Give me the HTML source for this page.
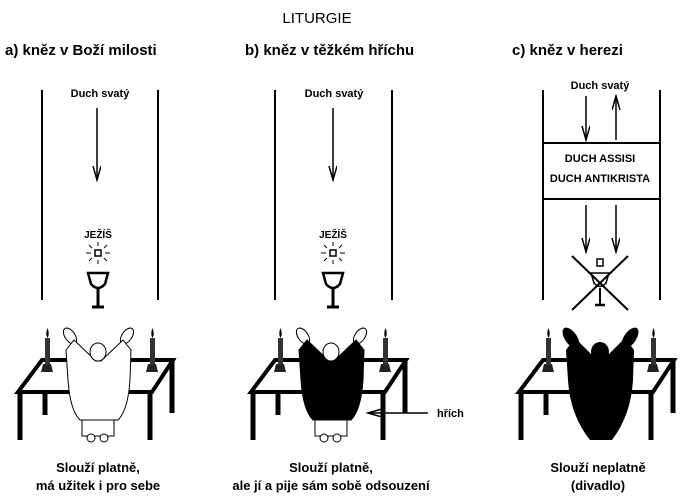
<!DOCTYPE html>
<html><head><meta charset="utf-8"><style>
html,body{margin:0;padding:0;background:#fff;}
svg{display:block;}
text{font-family:"Liberation Sans",sans-serif;font-weight:bold;fill:#000;}
</style></head><body>
<svg width="689" height="504" viewBox="0 0 689 504" xmlns="http://www.w3.org/2000/svg">
<defs>
<marker id="ah" markerWidth="16" markerHeight="10" refX="14" refY="4" orient="auto" markerUnits="userSpaceOnUse">
<path d="M0,0 L14,4 L0,8" fill="none" stroke="#000" stroke-width="1.5"/>
</marker>
<g id="table">
<path d="M42,360 L173,360 L152,392 L18,392 Z" fill="#fff" stroke="#000" stroke-width="4"/>
<line x1="20" y1="392" x2="20" y2="440" stroke="#000" stroke-width="5"/>
<line x1="150" y1="392" x2="150" y2="440" stroke="#000" stroke-width="5"/>
<line x1="45" y1="392" x2="45" y2="415" stroke="#000" stroke-width="5"/>
<line x1="172" y1="360" x2="172" y2="413" stroke="#000" stroke-width="5"/>
<path d="M41,372 L43,364 L51,364 L53,372 Z" fill="#222"/>
<rect x="45" y="338" width="5" height="27" fill="#333"/>
<path d="M47.5,328 Q45,334 47.5,338 Q50,334 47.5,328Z" fill="#000"/>
<path d="M146,372 L148,364 L156,364 L158,372 Z" fill="#222"/>
<rect x="150" y="338" width="5" height="27" fill="#333"/>
<path d="M152.5,328 Q150,334 152.5,338 Q155,334 152.5,328Z" fill="#000"/>
</g>
</defs>

<text x="317" y="23" font-size="15" text-anchor="middle" style="font-weight:normal">LITURGIE</text>
<text x="5" y="55" font-size="15">a) kněz v  Boží  milosti</text>
<text x="245" y="55" font-size="15">b) kněz v těžkém hříchu</text>
<text x="512" y="55" font-size="15">c) kněz v herezi</text>

<g stroke="#000" stroke-width="2">
<line x1="42" y1="90" x2="42" y2="300"/><line x1="158" y1="90" x2="158" y2="300"/>
<line x1="275" y1="90" x2="275" y2="300"/><line x1="392" y1="90" x2="392" y2="300"/>
<line x1="543" y1="90" x2="543" y2="300"/><line x1="660" y1="90" x2="660" y2="300"/>
<line x1="543" y1="143" x2="660" y2="143"/><line x1="543" y1="199" x2="660" y2="199"/>
</g>
<g stroke="#000" stroke-width="1.5" fill="none">
<line x1="97" y1="108" x2="97" y2="180" marker-end="url(#ah)"/>
<line x1="333" y1="108" x2="333" y2="180" marker-end="url(#ah)"/>
<line x1="586" y1="96" x2="586" y2="140" marker-end="url(#ah)"/>
<line x1="616" y1="140" x2="616" y2="96" marker-end="url(#ah)"/>
<line x1="586" y1="205" x2="586" y2="252" marker-end="url(#ah)"/>
<line x1="616" y1="205" x2="616" y2="252" marker-end="url(#ah)"/>
<line x1="428" y1="413" x2="368" y2="413" marker-end="url(#ah)"/>
</g>
<text x="100" y="97" font-size="11" text-anchor="middle">Duch svatý</text>
<text x="334" y="97" font-size="11" text-anchor="middle">Duch svatý</text>
<text x="600" y="89" font-size="11" text-anchor="middle" stroke="#fff" stroke-width="3" paint-order="stroke">Duch svatý</text>
<text x="600" y="162" font-size="11" text-anchor="middle">DUCH ASSISI</text>
<text x="600" y="182" font-size="11" text-anchor="middle">DUCH ANTIKRISTA</text>
<text x="437" y="417" font-size="11">hřích</text>

<g id="hc" stroke="#000" fill="none">
<text x="98" y="238" font-size="10" text-anchor="middle" stroke="none">JEŽÍŠ</text>
<rect x="95" y="250" width="6" height="6" stroke-width="1.5"/>
<g stroke-width="1">
<line x1="86" y1="253" x2="91" y2="253"/><line x1="105" y1="253" x2="110" y2="253"/>
<line x1="98" y1="242" x2="98" y2="246"/><line x1="98" y1="260" x2="98" y2="264"/>
<line x1="89" y1="245" x2="92" y2="248"/><line x1="104" y1="248" x2="107" y2="245"/>
<line x1="89" y1="261" x2="92" y2="258"/><line x1="104" y1="258" x2="107" y2="261"/>
</g>
<path d="M88,273 L108,273 L105,284 Q98,292 91,284 Z" stroke-width="2.5"/>
<line x1="98" y1="289" x2="98" y2="307" stroke-width="3"/>
<line x1="92" y1="307" x2="104" y2="307" stroke-width="3"/>
</g>
<use href="#hc" transform="translate(235,0)"/>
<g stroke="#000" fill="none">
<rect x="597" y="259" width="6" height="7" stroke-width="1.5"/>
<path d="M591,273 L609,273 L606,283 Q600,290 594,283 Z" stroke-width="1.5"/>
<line x1="600" y1="288" x2="600" y2="305" stroke-width="2"/>
<line x1="595" y1="305" x2="605" y2="305" stroke-width="2.5"/>
<line x1="572" y1="256" x2="628" y2="310" stroke-width="2"/>
<line x1="628" y1="256" x2="572" y2="310" stroke-width="2"/>
</g>

<use href="#table"/>
<use href="#table" transform="translate(233,0)"/>
<use href="#table" transform="translate(501,0)"/>

<g stroke="#000" stroke-width="1" fill="#fff">
<rect x="82" y="418" width="32" height="18"/>
<circle cx="91" cy="438" r="4"/><circle cx="104" cy="438" r="4"/>
<ellipse cx="70" cy="336" rx="5" ry="9" transform="rotate(-35 70 336)"/>
<ellipse cx="127" cy="336" rx="5" ry="9" transform="rotate(35 127 336)"/>
<path d="M66,350 L74,340 L96,361 L101,361 L123,340 L131,350 L130,380 Q128,410 118,420 L80,420 Q70,410 68,380 Z"/>
<ellipse cx="98" cy="352" rx="8" ry="9"/>
</g>
<g stroke="#000" stroke-width="1">
<rect x="315" y="418" width="32" height="18" fill="#fff"/>
<circle cx="324" cy="438" r="4" fill="#fff"/><circle cx="337" cy="438" r="4" fill="#fff"/>
<ellipse cx="303" cy="336" rx="5" ry="9" transform="rotate(-35 303 336)" fill="#fff"/>
<ellipse cx="360" cy="336" rx="5" ry="9" transform="rotate(35 360 336)" fill="#fff"/>
<path d="M299,350 L307,340 L329,361 L334,361 L356,340 L364,350 L363,380 Q361,410 351,420 L313,420 Q303,410 301,380 Z" fill="#000"/>
<ellipse cx="331" cy="352" rx="8" ry="9" fill="#fff"/>
</g>
<g fill="#000">
<ellipse cx="571" cy="338" rx="6" ry="12" transform="rotate(-35 571 338)"/>
<ellipse cx="630" cy="338" rx="6" ry="12" transform="rotate(35 630 338)"/>
<path d="M566,350 L575,338 L597,360 L603,360 L625,338 L634,350 L633,380 Q631,415 612,440 L590,440 Q570,415 568,380 Z"/>
<ellipse cx="600" cy="352" rx="9" ry="10"/>
</g>

<text x="98" y="472" font-size="13" text-anchor="middle">Slouží platně,</text>
<text x="98" y="490" font-size="13" text-anchor="middle">má užitek  i  pro sebe</text>
<text x="331" y="472" font-size="13" text-anchor="middle">Slouží platně,</text>
<text x="331" y="490" font-size="13" text-anchor="middle">ale jí a pije sám sobě odsouzení</text>
<text x="598" y="472" font-size="13" text-anchor="middle">Slouží neplatně</text>
<text x="598" y="490" font-size="13" text-anchor="middle">(divadlo)</text>
</svg>
</body></html>
